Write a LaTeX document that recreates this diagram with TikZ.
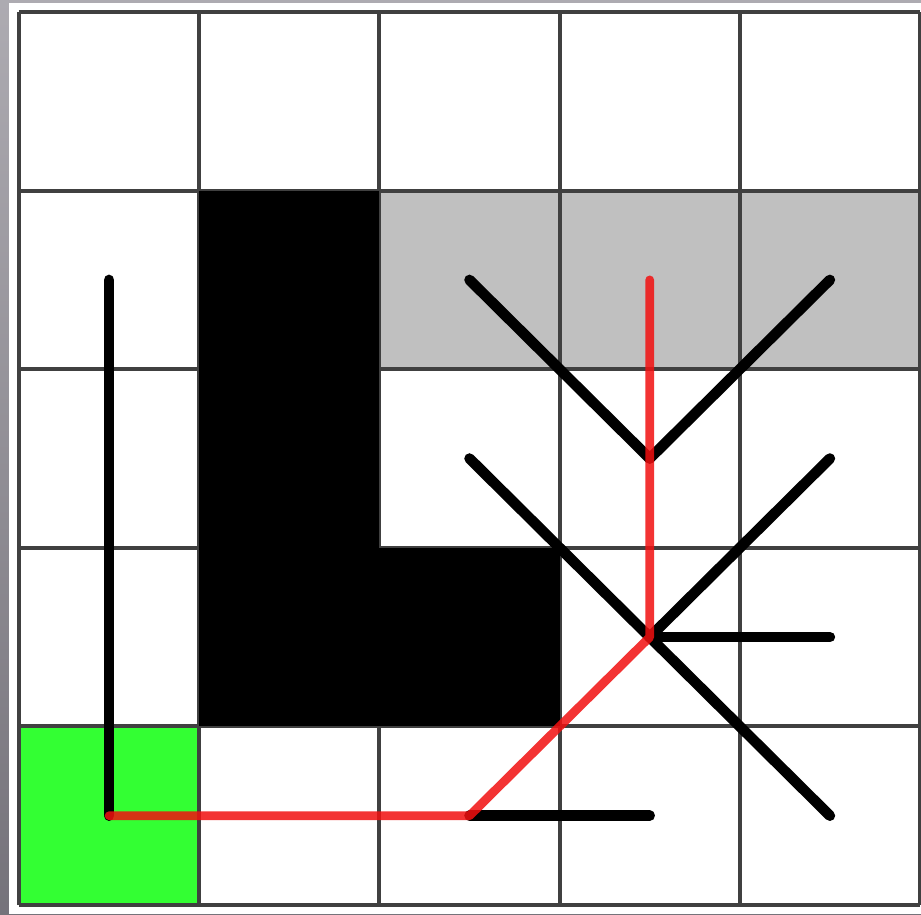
\documentclass[tikz,border=0pt]{standalone}
\usepackage{xcolor}
\usepackage{tikz}
\usetikzlibrary{calc,positioning,backgrounds,shadings}
\definecolor{gridgray}{HTML}{404040}
\definecolor{explored}{HTML}{C0C0C0}
\definecolor{startgreen}{HTML}{33FF33}
\definecolor{pathred}{HTML}{F21010}
\definecolor{framegray}{HTML}{8A8790}
\tikzset{
  gridline/.style={gridgray, line width=2.2pt},
  wall/.style={fill=black},
  visited/.style={fill=explored},
  startcell/.style={fill=startgreen},
  branch/.style={black, line width=6pt, line cap=round},
  bestpath/.style={pathred, opacity=0.85, line width=5pt, line cap=round, line join=round}
}

\begin{document}
\begin{tikzpicture}[x=3.604cm,y=3.572cm]
  \useasboundingbox (-0.1054,-0.0504) rectangle (5.0055,5.0672);
  % slide frame
  \shade[top color=framegray!70!white, bottom color=framegray!85!black]
    (-0.1054,-0.0504) rectangle (5.0055,5.0672);
  \fill[white] (-0.0555,-0.0504) rectangle (5.0055,5.05);
  % cells
  \fill[visited] (2,3) rectangle (5,4);
  \fill[startcell] (0,0) rectangle (1,1);
  \foreach \i in {0,...,5}{
    \draw[gridline] (\i,0) -- (\i,5);
    \draw[gridline] (0,\i) -- (5,\i);
  }
  \fill[wall] (1,1) rectangle (2,4);
  \fill[wall] (2,1) rectangle (3,2);
  % tree nodes (cell centres)
  \coordinate (start) at (0.5,0.5);
  \coordinate (up)    at (0.5,3.5);
  \coordinate (a)     at (2.5,0.5);
  \coordinate (a1)    at (3.5,0.5);
  \coordinate (b)     at (3.5,1.5);
  \coordinate (b1)    at (4.5,1.5);
  \coordinate (b2)    at (4.5,0.5);
  \coordinate (b3)    at (4.5,2.5);
  \coordinate (b4)    at (2.5,2.5);
  \coordinate (c)     at (3.5,2.5);
  \coordinate (c1)    at (2.5,3.5);
  \coordinate (c2)    at (4.5,3.5);
  \coordinate (goal)  at (3.5,3.5);
  % branches
  \draw[branch] (start) -- (up);
  \draw[branch] (a) -- (a1);
  \draw[branch] (b) -- (b1);
  \draw[branch] (b) -- (b2);
  \draw[branch] (b) -- (b3);
  \draw[branch] (b) -- (b4);
  \draw[branch] (c) -- (c1);
  \draw[branch] (c) -- (c2);
  % path found
  \draw[bestpath] (start) -- (a) -- (b) -- (c) -- (goal);
\end{tikzpicture}
\end{document}
